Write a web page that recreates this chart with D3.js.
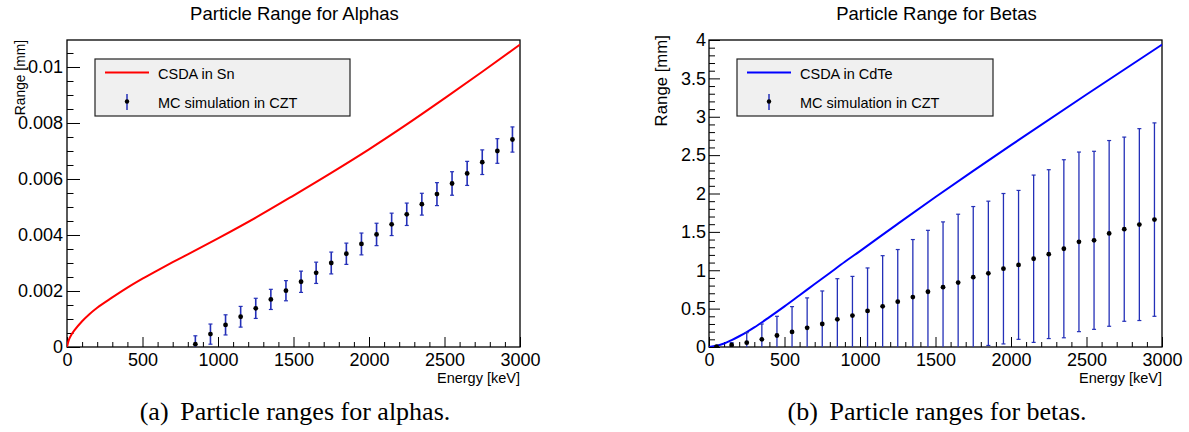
<!DOCTYPE html>
<html>
<head>
<meta charset="utf-8">
<script src="https://cdn.jsdelivr.net/npm/d3@7"></script>
<style>
	body { margin: 0; background: #fff; }
	svg text { font-family: "Liberation Sans", Arial, Helvetica, sans-serif; fill: #000; }
	svg text.caption { font-family: "Liberation Serif", "Times New Roman", serif; }
</style>
</head>
<body>
<svg id="chart" width="1189" height="432"></svg>
<script>
// ---- data ----
var xTicks = [0, 500, 1000, 1500, 2000, 2500, 3000];
var xMinorTicks = [100, 200, 300, 400, 600, 700, 800, 900, 1100, 1200, 1300, 1400, 1600, 1700, 1800, 1900,
	2100, 2200, 2300, 2400, 2600, 2700, 2800, 2900];

// alphas
var alphaTitle = "Particle Range for Alphas";
var alphaYTicks = [0, 0.002, 0.004, 0.006, 0.008, 0.01];
var alphaYMinor = [0.0005, 0.001, 0.0015, 0.0025, 0.003, 0.0035, 0.0045, 0.005, 0.0055, 0.0065, 0.007, 0.0075,
	0.0085, 0.009, 0.0095, 0.0105];
var alphaCsdaE = [0, 10, 25, 50, 100, 150, 200, 300, 400, 500, 600, 700, 800, 1000, 1250, 1500, 1750, 2000,
	2250, 2500, 2750, 3000];
var alphaCsdaR = [0, 0.00022, 0.0004, 0.0006, 0.00092, 0.00118, 0.0014, 0.00177, 0.00212, 0.00244, 0.00274,
	0.00303, 0.00331, 0.00388, 0.00462, 0.00541, 0.00622, 0.00706, 0.00795, 0.00888, 0.00983, 0.0108];
var alphaMcE = [850, 950, 1050, 1150, 1250, 1350, 1450, 1550, 1650, 1750, 1850, 1950, 2050, 2150, 2250, 2350,
	2450, 2550, 2650, 2750, 2850, 2950];
var alphaMcR = [0.0001, 0.00046, 0.00079, 0.00108, 0.00138, 0.0017, 0.00201, 0.00233, 0.00265, 0.0030, 0.00333,
	0.00368, 0.00402, 0.00438, 0.00474, 0.0051, 0.00546, 0.00584, 0.0062, 0.0066, 0.0070, 0.00741];
var alphaMcErr = [0.0003, 0.00036, 0.00036, 0.00037, 0.00036, 0.00036, 0.00036, 0.00038, 0.00038, 0.00039,
	0.00038, 0.00039, 0.0004, 0.0004, 0.0004, 0.00039, 0.00041, 0.00042, 0.00043, 0.00044, 0.00044, 0.00045];

// betas
var betaTitle = "Particle Range for Betas";
var betaYTicks = [0, 0.5, 1, 1.5, 2, 2.5, 3, 3.5, 4];
var betaYMinor = [0.1, 0.2, 0.3, 0.4, 0.6, 0.7, 0.8, 0.9, 1.1, 1.2, 1.3, 1.4, 1.6, 1.7, 1.8, 1.9, 2.1, 2.2, 2.3, 2.4,
	2.6, 2.7, 2.8, 2.9, 3.1, 3.2, 3.3, 3.4, 3.6, 3.7, 3.8, 3.9];
var betaCsdaE = [0, 50, 100, 150, 200, 250, 300, 400, 500, 600, 700, 800, 900, 1000, 1250, 1500, 1750, 2000, 2500, 3000];
var betaCsdaR = [0, 0.015, 0.045, 0.09, 0.14, 0.195, 0.255, 0.39, 0.53, 0.675, 0.82, 0.965, 1.11, 1.25, 1.605,
	1.955, 2.295, 2.63, 3.29, 3.94];
var betaMcE = [50, 150, 250, 350, 450, 550, 650, 750, 850, 950, 1050, 1150, 1250, 1350, 1450, 1550, 1650, 1750,
	1850, 1950, 2050, 2150, 2250, 2350, 2450, 2550, 2650, 2750, 2850, 2950];
var betaMcR = [0.005, 0.026, 0.057, 0.10, 0.15, 0.196, 0.25, 0.30, 0.36, 0.41, 0.47, 0.53, 0.59, 0.65, 0.72, 0.78,
	0.84, 0.91, 0.96, 1.02, 1.07, 1.15, 1.21, 1.28, 1.37, 1.39, 1.48, 1.535, 1.595, 1.66];
var betaMcErr = [0.005, 0.03, 0.13, 0.2, 0.25, 0.33, 0.39, 0.43, 0.53, 0.51, 0.56, 0.66, 0.68, 0.75, 0.80, 0.85,
	0.89, 0.92, 0.94, 0.98, 0.97, 1.09, 1.10, 1.16, 1.17, 1.16, 1.21, 1.20, 1.25, 1.26];

var svg = d3.select("#chart");

var drawPanel = function (p) {
	var x = d3.scaleLinear().domain([0, 3000]).range([p.left, p.right]);
	var y = d3.scaleLinear().domain([0, p.yMax]).range([p.bottom, p.top]);
	var g = svg.append("g").attr("id", p.id);

	g.append("clipPath").attr("id", p.id + "-clip")
		.append("rect")
		.attr("x", p.left).attr("y", p.top)
		.attr("width", p.right - p.left).attr("height", p.bottom - p.top);

	// title
	g.append("text")
		.attr("x", (p.left + p.right) / 2 + 1)
		.attr("y", 20)
		.attr("text-anchor", "middle")
		.style("font-size", "18.5px")
		.text(p.title);

	// x axis, major + minor, ticks inward
	var xMajor = d3.axisBottom(x).tickValues(xTicks).tickSizeInner(-10).tickSizeOuter(0).tickPadding(6.5)
		.tickFormat(function (d) { return String(d); });
	var xMinor = d3.axisBottom(x).tickValues(xMinorTicks).tickSizeInner(-5).tickSizeOuter(0).tickFormat("");
	g.append("g").attr("transform", "translate(0," + p.bottom + ")").call(xMajor);
	g.append("g").attr("transform", "translate(0," + p.bottom + ")").call(xMinor);

	// y axis
	var yMajor = d3.axisLeft(y).tickValues(p.yTicks).tickSizeInner(-p.majorLen).tickSizeOuter(0).tickPadding(p.yPad)
		.tickFormat(function (d) { return String(d); });
	var yMinor = d3.axisLeft(y).tickValues(p.yMinor).tickSizeInner(-p.minorLen).tickSizeOuter(0).tickFormat("");
	g.append("g").attr("transform", "translate(" + p.left + ",0)").call(yMajor);
	g.append("g").attr("transform", "translate(" + p.left + ",0)").call(yMinor);

	g.selectAll(".domain").remove();
	g.selectAll(".tick line").attr("stroke", "#000").attr("stroke-width", 1);
	g.selectAll(".tick text").style("font-size", "18px").attr("fill", "#000");

	// frame
	g.append("rect")
		.attr("x", p.left).attr("y", p.top)
		.attr("width", p.right - p.left).attr("height", p.bottom - p.top)
		.attr("fill", "none").attr("stroke", "#000").attr("stroke-width", 1.3);

	// axis titles
	g.append("text")
		.attr("x", p.right)
		.attr("y", 383)
		.attr("text-anchor", "end")
		.style("font-size", "14.5px")
		.text("Energy [keV]");

	g.append("text")
		.attr("transform", "translate(" + p.yTitleX + "," + p.yTitleTop + ") rotate(-90)")
		.attr("text-anchor", "end")
		.style("font-size", p.yTitleSize + "px")
		.text("Range [mm]");

	var plot = g.append("g").attr("clip-path", "url(#" + p.id + "-clip)");

	// CSDA curve
	var line = d3.line()
		.x(function (d) { return x(d[0]); })
		.y(function (d) { return y(d[1]); })
		.curve(d3.curveMonotoneX);

	plot.append("path")
		.datum(d3.zip(p.csdaE, p.csdaR))
		.attr("d", line)
		.attr("fill", "none")
		.attr("stroke", p.color)
		.attr("stroke-width", 2);

	// MC points with error bars
	var mc = p.mcE.map(function (e, i) {
		return {e: e, r: p.mcR[i], err: p.mcErr[i]};
	});

	var bars = plot.selectAll(".err").data(mc).enter().append("g").attr("class", "err");
	bars.append("line")
		.attr("x1", function (d) { return x(d.e); })
		.attr("x2", function (d) { return x(d.e); })
		.attr("y1", function (d) { return y(d.r - d.err); })
		.attr("y2", function (d) { return y(d.r + d.err); })
		.attr("stroke", "#2430b8").attr("stroke-width", p.errWidth);
	[-1, 1].forEach(function (s) {
		bars.append("line")
			.attr("x1", function (d) { return x(d.e) - 2; })
			.attr("x2", function (d) { return x(d.e) + 2; })
			.attr("y1", function (d) { return y(d.r + s * d.err); })
			.attr("y2", function (d) { return y(d.r + s * d.err); })
			.attr("stroke", "#2430b8").attr("stroke-width", 1.2);
	});
	plot.selectAll(".pt").data(mc).enter().append("circle")
		.attr("class", "pt")
		.attr("cx", function (d) { return x(d.e); })
		.attr("cy", function (d) { return y(d.r); })
		.attr("r", 2.4)
		.attr("fill", "#000");

	// legend
	var lg = g.append("g");
	lg.append("rect")
		.attr("x", p.legX).attr("y", 59)
		.attr("width", p.legW).attr("height", 57)
		.attr("fill", "#f0f0f0").attr("stroke", "#222").attr("stroke-width", 1.2);
	lg.append("line")
		.attr("x1", p.legX + 10).attr("x2", p.legX + 54)
		.attr("y1", 72.5).attr("y2", 72.5)
		.attr("stroke", p.color).attr("stroke-width", 2);
	lg.append("line")
		.attr("x1", p.legX + 32).attr("x2", p.legX + 32)
		.attr("y1", 94).attr("y2", 110)
		.attr("stroke", "#2430b8").attr("stroke-width", 1.5);
	lg.append("circle")
		.attr("cx", p.legX + 32).attr("cy", 101.5).attr("r", 2.2)
		.attr("fill", "#000");
	lg.append("text")
		.attr("x", p.legX + 63).attr("y", 79)
		.style("font-size", "14.5px")
		.text(p.csdaLabel);
	lg.append("text")
		.attr("x", p.legX + 63).attr("y", 108)
		.style("font-size", "14.5px")
		.text("MC simulation in CZT");

	// sub-figure caption
	var cap = g.append("text")
		.attr("class", "caption")
		.attr("x", p.capX)
		.attr("y", 420)
		.attr("text-anchor", "middle")
		.style("font-size", "26px");
	cap.append("tspan").text(p.capTag);
	cap.append("tspan").attr("dx", "0.45em").text(p.capText);
};

drawPanel({
	id: "alphas", title: alphaTitle,
	left: 67, right: 520, top: 40, bottom: 347,
	yMax: 0.010964, yTicks: alphaYTicks, yMinor: alphaYMinor,
	majorLen: 13, minorLen: 6.5, yPad: 4,
	yTitleX: 25, yTitleTop: 40, yTitleSize: 13.8,
	csdaE: alphaCsdaE, csdaR: alphaCsdaR, color: "#ff0000",
	mcE: alphaMcE, mcR: alphaMcR, mcErr: alphaMcErr, errWidth: 1.6,
	legX: 95, legW: 255, csdaLabel: "CSDA in Sn",
	capX: 295, capTag: "(a)", capText: "Particle ranges for alphas."
});

drawPanel({
	id: "betas", title: betaTitle,
	left: 709, right: 1162, top: 40, bottom: 347,
	yMax: 4, yTicks: betaYTicks, yMinor: betaYMinor,
	majorLen: 11, minorLen: 6, yPad: 3,
	yTitleX: 667, yTitleTop: 35, yTitleSize: 16.8,
	csdaE: betaCsdaE, csdaR: betaCsdaR, color: "#0000ff",
	mcE: betaMcE, mcR: betaMcR, mcErr: betaMcErr, errWidth: 1.3,
	legX: 737, legW: 256, csdaLabel: "CSDA in CdTe",
	capX: 937, capTag: "(b)", capText: "Particle ranges for betas."
});
</script>
</body>
</html>
